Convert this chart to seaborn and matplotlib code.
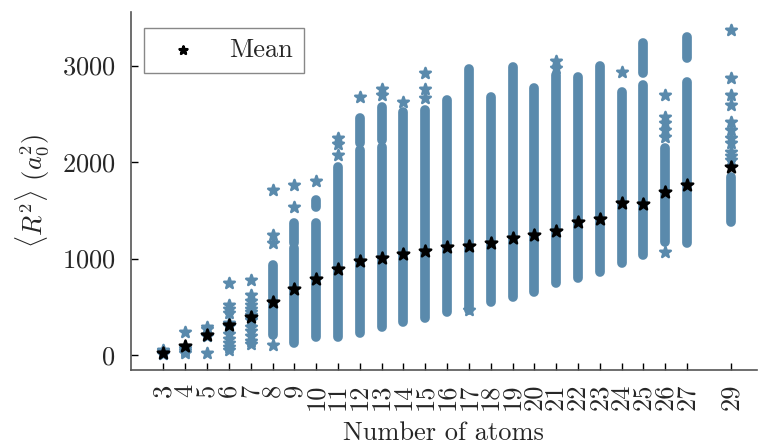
import numpy as np
import pandas as pd
import matplotlib
matplotlib.use("Agg")
import matplotlib.pyplot as plt
import seaborn as sns

# number of atoms for each column
n_atoms = [3, 4, 5, 6, 7, 8, 9, 10, 11, 12, 13, 14, 15, 16, 17, 18, 19, 20,
           21, 22, 23, 24, 25, 26, 27, 29]

# mean <R^2> per column (a0^2)
mean_r2 = [24, 97, 207, 310, 397, 550, 684, 788, 890, 974, 1005, 1045, 1080,
           1120, 1130, 1160, 1210, 1245, 1285, 1380, 1410, 1575, 1565, 1690,
           1762, 1950]

# densely filled ranges of each column (low, high)
dense_ranges = {
    8: [(210, 930)],
    9: [(125, 1110), (1160, 1370)],
    10: [(190, 1370), (1535, 1605)],
    11: [(190, 1950)],
    12: [(230, 2125), (2200, 2455)],
    13: [(290, 2155), (2230, 2570)],
    14: [(340, 2520)],
    15: [(380, 2540)],
    16: [(450, 2640)],
    17: [(470, 2960)],
    18: [(550, 2675)],
    19: [(600, 2990)],
    20: [(655, 2765)],
    21: [(745, 2900)],
    22: [(795, 2880)],
    23: [(860, 3000)],
    24: [(955, 2725)],
    25: [(1035, 2800), (2920, 3230)],
    26: [(1170, 2145)],
    27: [(1160, 2830), (3080, 3300)],
    29: [(1380, 1845)],
}

# single visible samples outside the dense ranges
single_points = {
    3: [10, 25, 40, 50],
    4: [20, 40, 60, 80, 241],
    5: [25, 200, 210, 265, 290],
    6: [55, 80, 120, 170, 220, 300, 330, 440, 480, 520, 750],
    7: [110, 150, 200, 250, 290, 360, 380, 415, 450, 480, 520, 560, 620, 777],
    8: [100, 1160, 1245, 1710],
    9: [1535, 1760],
    10: [1800],
    11: [2070, 2190, 2250],
    12: [2670],
    13: [2700, 2760],
    14: [2620],
    15: [2660, 2760, 2920],
    17: [466],
    21: [2980, 3050],
    24: [2935],
    26: [1070, 2260, 2330, 2400, 2470, 2695],
    29: [2020, 2060, 2100, 2195, 2250, 2330, 2415, 2590, 2695, 2870, 3370],
}

blue = "#5a8aac"

sns.set_style("white")
plt.rcParams["font.family"] = "serif"
plt.rcParams["font.serif"] = ["cmr10"]
plt.rcParams["mathtext.fontset"] = "cm"
plt.rcParams["axes.formatter.use_mathtext"] = True

fig = plt.figure(figsize=(7.6, 4.45), dpi=100)
ax = fig.add_axes([0.172, 0.1685, 0.824, 0.8045])

# dense parts as thick rounded strokes
for n, ranges in dense_ranges.items():
    for lo, hi in ranges:
        ax.plot([n, n], [lo, hi], color=blue, lw=7.0, solid_capstyle="round",
                zorder=2)

pts = pd.DataFrame([(n, v) for n, vals in single_points.items() for v in vals],
                   columns=["n", "r2"])
sns.scatterplot(data=pts, x="n", y="r2", marker="*", s=65, color=blue,
                edgecolor=blue, linewidth=1.8, legend=False, ax=ax, zorder=3)

means = pd.DataFrame({"n": n_atoms, "r2": mean_r2})
sns.scatterplot(data=means, x="n", y="r2", marker="*", s=75, color="black",
                edgecolor="black", linewidth=1.8, label="Mean", ax=ax, zorder=4)

ax.set_xlim(1.5, 30.2)
ax.set_ylim(-155, 3555)
ax.set_xticks(n_atoms)
ax.set_xticklabels([str(n) for n in n_atoms], rotation=90)
ax.set_yticks([0, 1000, 2000, 3000])
ax.tick_params(axis="both", direction="in", length=5, width=1, labelsize=19,
               color="black", bottom=True, left=True)
ax.tick_params(axis="x", pad=10)
ax.tick_params(axis="y", pad=11)

sns.despine(ax=ax)
for side in ["left", "bottom"]:
    ax.spines[side].set_color("#555555")
    ax.spines[side].set_linewidth(1.2)

ax.set_xlabel("Number of atoms", fontsize=19, labelpad=8)
ax.set_ylabel(r"$\langle R^2\rangle$ $(a_0^2)$", fontsize=19, labelpad=8)

leg = ax.legend(loc="upper left", bbox_to_anchor=(0.022, 0.955),
                borderaxespad=0, fontsize=19, fancybox=False, framealpha=1,
                edgecolor="#888888", handlelength=2.1, handletextpad=0.72,
                borderpad=0.4, markerscale=0.7)
leg.get_frame().set_linewidth(1.0)

fig.savefig("out.png", dpi=100)
